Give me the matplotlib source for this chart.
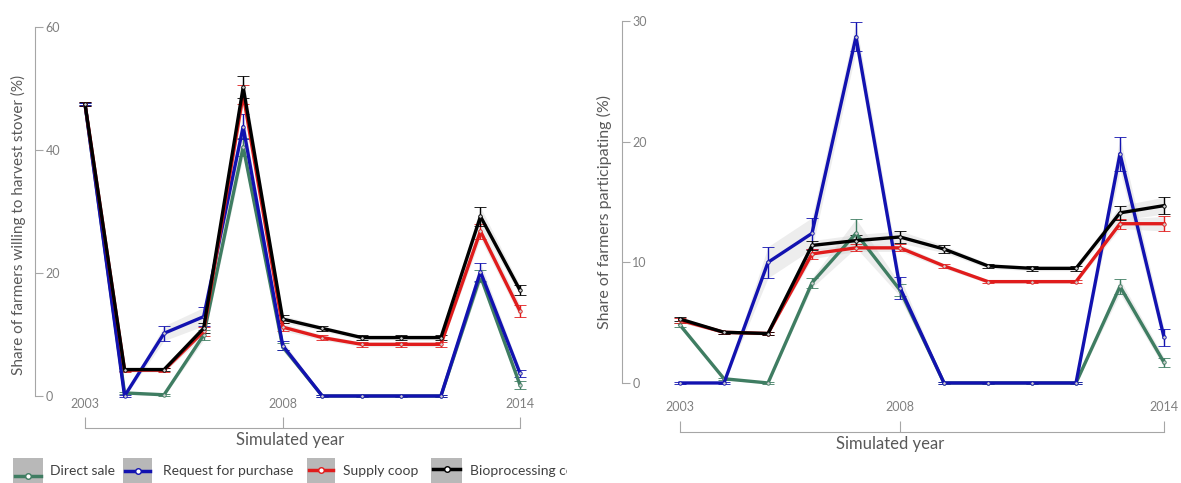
import matplotlib
matplotlib.use("Agg")
import matplotlib.pyplot as plt
from matplotlib.patches import Rectangle
import numpy as np

plt.rcParams['font.family'] = ['Lato', 'DejaVu Sans']

years = list(range(2003, 2015))
series_names = ["Direct sale", "Request for purchase", "Supply coop", "Bioprocessing company"]
colors = ["#3f7d62", "#1212b0", "#e01c1c", "#000000"]

# Left panel: share of farmers willing to harvest stover (%)
left_direct = [47.5, 0.5, 0.2, 9.9, 40.5, 8.0, 0, 0, 0, 0, 19.5, 1.8]
left_request = [47.5, 0, 10.2, 12.9, 43.8, 8.2, 0, 0, 0, 0, 20.2, 3.7]
left_supply = [47.5, 4.2, 4.2, 10.5, 49.0, 11.2, 9.5, 8.4, 8.4, 8.4, 26.8, 13.8]
left_bio = [47.5, 4.3, 4.3, 11.0, 50.2, 12.5, 11.0, 9.5, 9.5, 9.5, 29.2, 17.2]
left_err_direct = [0.2, 0.2, 0.2, 0.8, 1.5, 0.6, 0.1, 0.1, 0.1, 0.1, 1.0, 0.6]
left_err_request = [0.2, 0.2, 1.2, 1.5, 2.0, 0.8, 0.1, 0.1, 0.1, 0.1, 1.5, 0.6]
left_err_supply = [0.3, 0.3, 0.3, 0.8, 1.5, 0.6, 0.4, 0.4, 0.4, 0.4, 1.2, 1.0]
left_err_bio = [0.3, 0.3, 0.3, 0.8, 1.8, 0.6, 0.4, 0.4, 0.4, 0.4, 1.5, 0.8]

# Right panel: share of farmers participating (%)
right_direct = [4.8, 0.35, 0.0, 8.3, 12.4, 7.7, 0, 0, 0, 0, 8.0, 1.7]
right_request = [0, 0, 10.0, 12.4, 28.7, 7.9, 0, 0, 0, 0, 19.0, 3.8]
right_supply = [5.2, 4.2, 4.1, 10.7, 11.2, 11.2, 9.7, 8.4, 8.4, 8.4, 13.2, 13.2]
right_bio = [5.3, 4.2, 4.1, 11.4, 11.8, 12.1, 11.1, 9.7, 9.5, 9.5, 14.1, 14.7]
right_err_direct = [0.2, 0.1, 0.05, 0.4, 1.2, 0.5, 0.05, 0.05, 0.05, 0.05, 0.6, 0.4]
right_err_request = [0.05, 0.05, 1.3, 1.3, 1.2, 0.9, 0.05, 0.05, 0.05, 0.05, 1.4, 0.7]
right_err_supply = [0.2, 0.1, 0.1, 0.4, 0.3, 0.3, 0.2, 0.15, 0.15, 0.15, 0.4, 0.6]
right_err_bio = [0.2, 0.1, 0.15, 0.4, 0.5, 0.5, 0.3, 0.2, 0.2, 0.2, 0.6, 0.7]

left_ticks_y = [0, 20, 40, 60]
right_ticks_y = [0, 10, 20, 30]
x_ticks = [2003, 2008, 2014]
left_ylabel = "Share of farmers willing to harvest stover (%)"
right_ylabel = "Share of farmers participating (%)"
xlabel = "Simulated year"

W, H = 1181, 483
fig = plt.figure(figsize=(W / 100, H / 100), dpi=100)

def px_axes(x0, x1, ytop, ybot):
    return fig.add_axes([x0 / W, 1 - ybot / H, (x1 - x0) / W, (ybot - ytop) / H])

spine_c = "#a6a6a6"
tick_txt = "#808080"
lab_txt = "#595959"

def style(ax, yticks, ymax, bracket_out_pt, xpad):
    for s in ["top", "right"]:
        ax.spines[s].set_visible(False)
    ax.spines["left"].set_bounds(0, ymax)
    ax.spines["left"].set_color(spine_c)
    ax.spines["bottom"].set_color(spine_c)
    ax.spines["bottom"].set_position(("outward", bracket_out_pt))
    ax.spines["bottom"].set_bounds(2003, 2014)
    ax.set_yticks(yticks)
    ax.set_xticks(x_ticks)
    ax.tick_params(axis="y", direction="in", length=6, color=spine_c,
                   labelcolor=tick_txt, labelsize=9, pad=-7.5)
    for t in ax.yaxis.get_major_ticks():
        t.label1.set_horizontalalignment("left")
    ax.tick_params(axis="x", direction="in", length=8, color=spine_c,
                   labelcolor=tick_txt, labelsize=9, pad=xpad)
    for t in ax.xaxis.get_major_ticks():
        t.label1.set_verticalalignment("bottom")

def draw(ax, vals, errs):
    for v, e, c in zip(vals, errs, colors):
        v = np.array(v); e = np.array(e)
        ax.fill_between(years, v - e, v + e, color="#cccccc", alpha=0.35,
                        lw=0, zorder=1)
    for v, e, c in zip(vals, errs, colors):
        ax.errorbar(years, v, yerr=e, color=c, lw=2.4, elinewidth=1.0, capsize=4,
                    capthick=1.0, ecolor=c, marker="o", ms=2.5, mfc="#d0d0d0",
                    mec=c, mew=0.6, clip_on=False, zorder=3)

# Left axes
axL = px_axes(35, 540, 20.85, 402.15)
axL.set_xlim(2003 - 50 / 39.55, 2014 + 20 / 39.55)
axL.set_ylim(-1, 61)
draw(axL, [left_direct, left_request, left_supply, left_bio],
     [left_err_direct, left_err_request, left_err_supply, left_err_bio])
style(axL, left_ticks_y, 60, 25.5 * 0.72, -13)

# Right axes
axR = px_axes(622, 1175, 15, 389)
axR.set_xlim(2003 - 58 / 44, 2014 + 11 / 44)
axR.set_ylim(-0.5, 30.5)
draw(axR, [right_direct, right_request, right_supply, right_bio],
     [right_err_direct, right_err_request, right_err_supply, right_err_bio])
style(axR, right_ticks_y, 30, 43 * 0.72, -14)

fig.text(18 / W, 1 - 225 / H, left_ylabel, rotation=90, ha="center", va="center",
         fontsize=11, color=lab_txt)
fig.text(604 / W, 1 - 212 / H, right_ylabel, rotation=90, ha="center", va="center",
         fontsize=11.5, color=lab_txt)
fig.text(290 / W, 1 - 440 / H, xlabel, ha="center", va="center", fontsize=12, color=lab_txt)
fig.text(890 / W, 1 - 444 / H, xlabel, ha="center", va="center", fontsize=12, color=lab_txt)

# Legend (clipped at the right like the original)
axLeg = fig.add_axes([0, 0, 567 / W, 40 / H])
axLeg.set_xlim(0, 567)
axLeg.set_ylim(483, 443)
axLeg.axis("off")
box_x = [13, 123, 307, 431]
box_w = [30, 29, 28, 31]
line_y = [476, 471, 470, 469]
text_x = [50, 163, 343, 470]
for name, c, bx, bw, ly, tx in zip(series_names, colors, box_x, box_w, line_y, text_x):
    axLeg.add_patch(Rectangle((bx, 458), bw, 26, facecolor="#b8b8b8", edgecolor="none"))
    axLeg.plot([bx + 2, bx + bw - 2], [ly, ly], color=c, lw=2.5)
    axLeg.plot([bx + bw / 2], [ly], marker="o", ms=4, mfc="white", mec=c, mew=1)
    axLeg.text(tx, 471, name, ha="left", va="center", fontsize=10, color="#404040",
               clip_on=True)

fig.savefig("out.png", dpi=100)
